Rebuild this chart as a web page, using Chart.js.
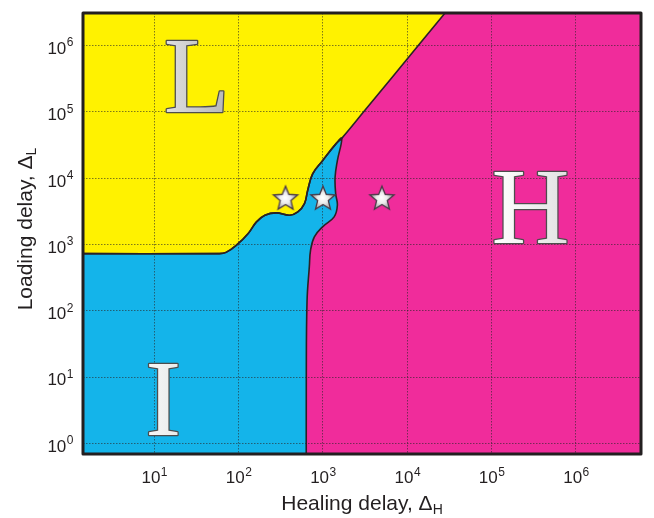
<!DOCTYPE html>
<html>
<head>
<meta charset="utf-8">
<script src="https://cdn.jsdelivr.net/npm/chart.js@4.4.0/dist/chart.umd.min.js"></script>
<style>
  html, body { margin: 0; padding: 0; background: #fff; }
  #wrap { width: 654px; height: 518px; }
</style>
</head>
<body>
<div id="wrap"><canvas id="myChart" width="654" height="518"></canvas></div>
<script>
// axis ranges
const xMin = 1.43, xMax = 5.9e6;
const yMin = 0.69, yMax = 3.1e6;
const xTicks = [10, 100, 1000, 1e4, 1e5, 1e6];
const yTicks = [1, 10, 100, 1000, 1e4, 1e5, 1e6];

// L / I boundary (yellow over cyan)
const liX = [58, 71, 95, 130, 163, 205, 280, 402, 504, 604, 659, 755, 989, 1416, 1670];
const liY = [728, 759, 982, 1466, 2193, 2761, 2992, 2761, 3097, 4121, 6531, 11588, 18365, 32584, 39800];
// L / H straight edge
const lhX = [1670, 3041, 13490, 59840, 125900];
const lhY = [39800, 1e5, 1e6, 1e7, 3.16e7];
// I / H boundary
const ihX = [1670, 1483, 1393, 1416, 1483, 1358, 989, 791, 714, 690, 648, 635, 635, 635];
const ihY = [39800, 18365, 10328, 5808, 3899, 2606, 1845, 1306, 826, 466, 139, 10, 0.1, 0.01];

// the three marked runs
const starX = [360, 1000, 5000];
const starY = [5000, 5000, 5000];

const toPts = (xs, ys) => xs.map((x, i) => ({ x: x, y: ys[i] }));
const liPts = toPts(liX, liY);
const lhPts = toPts(lhX, lhY);
const ihPts = toPts(ihX, ihY);

// closed shapes, the extra corners sit outside the axes and get clipped
const yellowShape = [{ x: 1, y: liY[0] }, ...liPts, ...lhPts.slice(1), { x: 1, y: lhY[lhY.length - 1] }];
const cyanShape = [{ x: 1, y: liY[0] }, ...liPts, ...ihPts.slice(1), { x: 1, y: ihY[ihY.length - 1] }];
const magentaShape = [{ x: 1, y: 0.01 }, { x: 1e8, y: 0.01 }, { x: 1e8, y: 1e8 }, { x: 1, y: 1e8 }];

const EDGE = "#2a2326";
const SANS = '"Liberation Sans", Arial, Helvetica, sans-serif';
const SERIF = '"Liberation Serif", "DejaVu Serif", serif';

function makeStar() {
  const c = document.createElement("canvas");
  c.width = 30;
  c.height = 30;
  const g = c.getContext("2d");
  const R = 12.8, r = 5.6;
  g.beginPath();
  for (let i = 0; i < 10; i++) {
    const a = -Math.PI / 2 + (i * Math.PI) / 5;
    const rad = i % 2 ? r : R;
    g.lineTo(15 + rad * Math.cos(a), 15.8 + rad * Math.sin(a));
  }
  g.closePath();
  const grad = g.createRadialGradient(14.5, 14.5, 0.5, 15, 15.5, 12.5);
  grad.addColorStop(0, "#ffffff");
  grad.addColorStop(0.4, "#ececec");
  grad.addColorStop(1, "#8e8e8e");
  g.fillStyle = grad;
  g.fill();
  g.lineWidth = 1.3;
  g.strokeStyle = "#4a3a48";
  g.stroke();
  return c;
}

function drawPower(ctx, x, base, align, exp) {
  ctx.font = "17px " + SANS;
  const w1 = ctx.measureText("10").width;
  ctx.font = "12px " + SANS;
  const w2 = ctx.measureText(exp).width;
  let start = align === "center" ? x - (w1 + w2) / 2 : x - (w1 + w2);
  ctx.textAlign = "left";
  ctx.font = "17px " + SANS;
  ctx.fillText("10", start, base);
  ctx.font = "12px " + SANS;
  ctx.fillText(exp, start + w1 + 0.5, base - 7.5);
}

function drawSubTitle(ctx, main, sub) {
  ctx.font = "21px " + SANS;
  const w1 = ctx.measureText(main).width;
  ctx.font = "14px " + SANS;
  const w2 = ctx.measureText(sub).width;
  const start = -(w1 + w2) / 2;
  ctx.textAlign = "left";
  ctx.font = "21px " + SANS;
  ctx.fillText(main, start, 0);
  ctx.font = "14px " + SANS;
  ctx.fillText(sub, start + w1, 4.5);
}

// big region letters, anchored in data units (centre, baseline)
const letterSpots = [
  { t: "L", x: 32, y: 1e5, light: false },
  { t: "I", x: 12.8, y: 1.33, light: true },
  { t: "H", x: 2.88e5, y: 1064, light: true },
];

const overlay = {
  id: "overlay",
  afterDraw(chart) {
    const ctx = chart.ctx;
    const xs = chart.scales.x, ys = chart.scales.y;
    const a = chart.chartArea;
    ctx.save();

    ctx.font = "108px " + SERIF;
    ctx.textAlign = "center";
    ctx.textBaseline = "alphabetic";
    letterSpots.forEach((s) => {
      const px = xs.getPixelForValue(s.x);
      const py = ys.getPixelForValue(s.y);
      const grad = ctx.createLinearGradient(px - 35, 0, px + 35, 0);
      if (s.light) {
        grad.addColorStop(0, "#ffffff");
        grad.addColorStop(1, "#e2e2e2");
      } else {
        grad.addColorStop(0, "#e2e2e2");
        grad.addColorStop(1, "#b4b4b4");
      }
      ctx.lineWidth = 2.6;
      ctx.lineJoin = "round";
      ctx.strokeStyle = "#4d4d4d";
      ctx.strokeText(s.t, px, py);
      ctx.fillStyle = grad;
      ctx.fillText(s.t, px, py);
    });

    ctx.strokeStyle = "#231f20";
    ctx.lineWidth = 3;
    ctx.strokeRect(a.left, a.top, a.right - a.left, a.bottom - a.top);

    ctx.fillStyle = "#231f20";
    ctx.textBaseline = "alphabetic";
    xTicks.forEach((v) => {
      drawPower(ctx, xs.getPixelForValue(v), 483, "center", String(Math.round(Math.log10(v))));
    });
    yTicks.forEach((v) => {
      drawPower(ctx, 73, ys.getPixelForValue(v) + 8.4, "right", String(Math.round(Math.log10(v))));
    });

    ctx.save();
    ctx.translate((a.left + a.right) / 2, 509.5);
    drawSubTitle(ctx, "Healing delay, \u0394", "H");
    ctx.restore();

    ctx.save();
    ctx.translate(31.7, 229);
    ctx.rotate(-Math.PI / 2);
    drawSubTitle(ctx, "Loading delay, \u0394", "L");
    ctx.restore();

    ctx.restore();
  },
};

const region = (data, color, order, border) => ({
  data: data,
  backgroundColor: color,
  borderColor: EDGE,
  borderWidth: border ? 1.6 : 0,
  fill: "shape",
  tension: border ? 0.4 : 0,
  pointRadius: 0,
  order: order,
});

const config = {
  type: "line",
  data: {
    datasets: [
      {
        data: toPts(starX, starY),
        showLine: false,
        pointStyle: makeStar(),
        pointRadius: 12,
        order: 0,
      },
      region(yellowShape, "#fff200", 1, true),
      region(cyanShape, "#14b4ea", 2, true),
      region(magentaShape, "#f02c9b", 3, false),
    ],
  },
  options: {
    responsive: false,
    animation: false,
    events: [],
    layout: { padding: { left: 83, right: 7, top: 10, bottom: 64 } },
    plugins: {
      legend: { display: false },
      tooltip: { enabled: false },
      filler: { drawTime: "beforeDraw" },
    },
    scales: {
      x: {
        type: "logarithmic",
        min: xMin,
        max: xMax,
        afterBuildTicks: (s) => { s.ticks = xTicks.map((v) => ({ value: v })); },
        afterFit: (s) => { s.height = 0; },
        ticks: { display: false },
        grid: { color: "rgba(40,40,40,0.6)", lineWidth: 1, drawTicks: false },
        border: { display: false, dash: [1.5, 1.5] },
      },
      y: {
        type: "logarithmic",
        min: yMin,
        max: yMax,
        afterBuildTicks: (s) => { s.ticks = yTicks.map((v) => ({ value: v })); },
        afterFit: (s) => { s.width = 0; },
        ticks: { display: false },
        grid: { color: "rgba(40,40,40,0.6)", lineWidth: 1, drawTicks: false },
        border: { display: false, dash: [1.5, 1.5] },
      },
    },
  },
  plugins: [overlay],
};

const myChart = new Chart(document.getElementById("myChart"), config);
</script>
</body>
</html>
